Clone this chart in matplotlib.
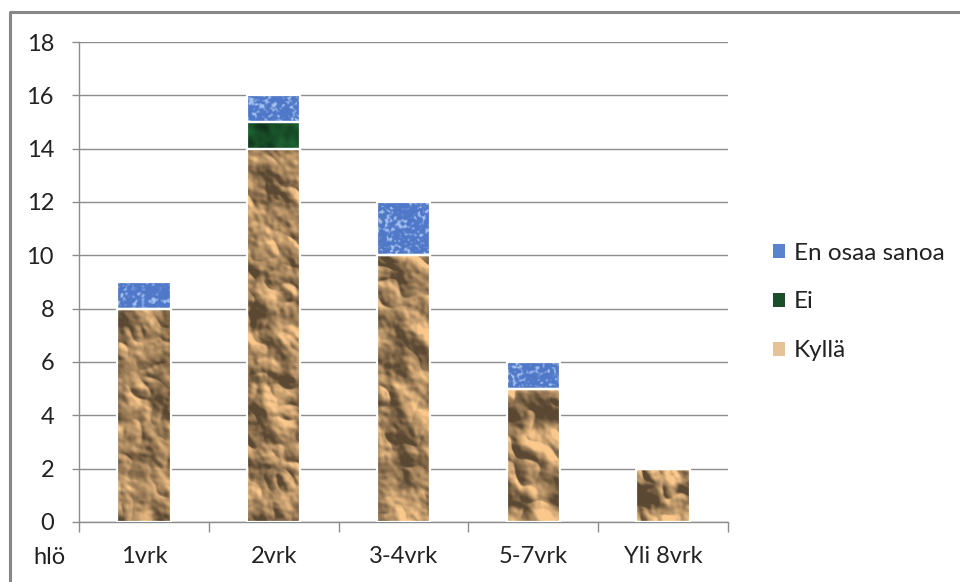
import numpy as np
import matplotlib
matplotlib.use("Agg")
import matplotlib.pyplot as plt
from matplotlib.patches import Patch
from matplotlib.lines import Line2D

categories = ["1vrk", "2vrk", "3-4vrk", "5-7vrk", "Yli 8vrk"]
kylla = [8, 14, 10, 5, 2]
ei = [0, 1, 0, 0, 0]
en_osaa = [1, 1, 2, 1, 0]
yticks = [0, 2, 4, 6, 8, 10, 12, 14, 16, 18]

plt.rcParams['font.family'] = ['Lato', 'DejaVu Sans']
text_col = '#222222'
grid_col = '#8c8c8c'


def smooth_noise(h, w, sigma, seed):
    rng = np.random.default_rng(seed)
    n = rng.standard_normal((h, w))
    fy = np.fft.fftfreq(h)[:, None]
    fx = np.fft.fftfreq(w)[None, :]
    filt = np.exp(-2 * (np.pi * sigma) ** 2 * (fx ** 2 + fy ** 2))
    out = np.real(np.fft.ifft2(np.fft.fft2(n) * filt))
    out -= out.mean()
    return out / (np.abs(out).max() + 1e-9)


def paper_texture(h, w, seed):
    # crumpled paper: shaded height field with sharp creases
    hgt = (smooth_noise(h, w, 11, seed)
           - 0.6 * np.abs(smooth_noise(h, w, 6, seed + 1))
           + 0.15 * smooth_noise(h, w, 2, seed + 2))
    gy, gx = np.gradient(hgt)
    shade = np.clip(0.5 + 9.0 * (gx * 0.7 - gy * 0.7), 0, 1.15)
    base = np.array([200, 160, 112]) / 255
    img = base[None, None, :] * (0.45 + 0.7 * shade[..., None])
    return np.clip(img, 0, 1)


def speckle_texture(h, w, seed):
    s = smooth_noise(h, w, 0.9, seed)
    base = np.array([80, 120, 200]) / 255
    light = np.array([165, 195, 240]) / 255
    t = np.clip((s - 0.1) * 2.5, 0, 1)[..., None]
    return base * (1 - t) + light * t


def green_texture(h, w, seed):
    s = smooth_noise(h, w, 2.5, seed)
    base = np.array([24, 78, 40]) / 255
    return np.clip(base * (1 + 0.35 * s[..., None]), 0, 1)


fig = plt.figure(figsize=(9.6, 5.82), dpi=100)
ax = fig.add_axes([79 / 960, 1 - 522 / 582, (728 - 79) / 960, (522 - 42) / 582])

x = np.arange(len(categories))
bw = 0.41
px_per_unit = 480 / 18

layers = [
    (kylla, paper_texture),
    (ei, green_texture),
    (en_osaa, speckle_texture),
]
bottom = np.zeros(len(categories))
seed = 10
for vals, tex in layers:
    bars = ax.bar(x, vals, bw, bottom=bottom, facecolor='none',
                  edgecolor='white', linewidth=1.6, zorder=4)
    for b, v in zip(bars, vals):
        if v == 0:
            continue
        h = max(int(v * px_per_unit), 8)
        img = tex(h, 53, seed)
        seed += 3
        x0 = b.get_x()
        y0 = b.get_y()
        ax.imshow(img, extent=(x0, x0 + b.get_width(), y0, y0 + b.get_height()),
                  aspect='auto', interpolation='bilinear', zorder=3,
                  clip_path=b, clip_on=True)
    bottom += np.array(vals)

ax.set_xlim(-0.5, len(categories) - 0.5)
ax.set_ylim(0, 18)
ax.set_yticks(yticks)
ax.set_xticks(x)
ax.set_xticklabels(categories)
ax.set_xticks(np.arange(len(categories) + 1) - 0.5, minor=True)
ax.yaxis.grid(True, color=grid_col, linewidth=1.0, zorder=0)
ax.set_axisbelow(True)

for side in ['top', 'right']:
    ax.spines[side].set_visible(False)
for side in ['left', 'bottom']:
    ax.spines[side].set_color(grid_col)
    ax.spines[side].set_linewidth(1.0)

ax.tick_params(axis='y', length=5, width=1, color=grid_col, pad=13,
               labelsize=17, labelcolor=text_col)
ax.tick_params(axis='x', which='major', length=0, pad=17,
               labelsize=17, labelcolor=text_col)
ax.tick_params(axis='x', which='minor', length=7, width=1, color=grid_col)

fig.text(49 / 960, 1 - 557 / 582, "hlö", ha='center', va='center',
         fontsize=17, color=text_col)

handles = [
    Patch(facecolor='#5a82cd', edgecolor='none', label='En osaa sanoa'),
    Patch(facecolor='#184e28', edgecolor='none', label='Ei'),
    Patch(facecolor='#e6c396', edgecolor='none', label='Kyllä'),
]
fig.legend(handles=handles, loc='center left',
           bbox_to_anchor=(761 / 960, 1 - 302 / 582), frameon=False,
           fontsize=17.5, handlelength=0.5, handleheight=0.5,
           handletextpad=0.35, labelspacing=1.15, borderpad=0,
           labelcolor=text_col)

# outer frame, top and left only
fx = 10 / 960
fy = 1 - 12 / 582
fig.add_artist(Line2D([fx, fx, 1], [0, fy, fy], transform=fig.transFigure,
                      color='#878787', linewidth=2.2))

fig.savefig("out.png", dpi=100)
